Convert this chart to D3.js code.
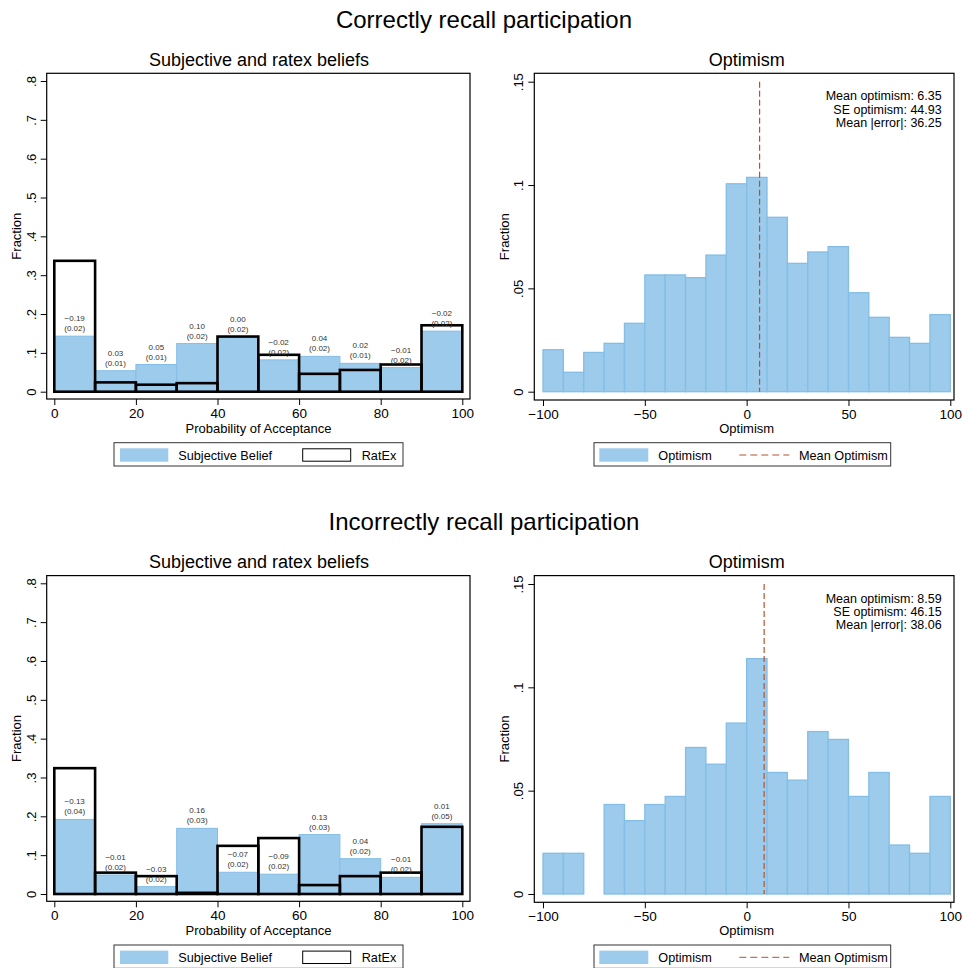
<!DOCTYPE html>
<html>
<head>
<meta charset="utf-8">
<script src="https://cdn.jsdelivr.net/npm/d3@7"></script>
<style>
  body { margin: 0; background: #fff; }
  svg { font-family: "Liberation Sans", Arial, sans-serif; }
</style>
</head>
<body>
<svg id="chart" width="964" height="968"></svg>
<script>
// bins for the probability histograms (start of each 10-point bin)
const probBins = [0, 10, 20, 30, 40, 50, 60, 70, 80, 90];
// bins for the optimism histograms
const optBins = [-100, -90, -80, -70, -60, -50, -40, -30, -20, -10, 0, 10, 20, 30, 40, 50, 60, 70, 80, 90];

// correctly recall participation
const topSubjective = [0.143, 0.054, 0.070, 0.124, 0.140, 0.082, 0.091, 0.073, 0.062, 0.156];
const topRatex      = [0.337, 0.024, 0.018, 0.022, 0.142, 0.095, 0.046, 0.056, 0.070, 0.171];
const topDiff = ["−0.19", "0.03", "0.05", "0.10", "0.00", "−0.02", "0.04", "0.02", "−0.01", "−0.02"];
const topSE   = ["(0.02)", "(0.01)", "(0.01)", "(0.02)", "(0.02)", "(0.02)", "(0.02)", "(0.01)", "(0.02)", "(0.02)"];
const topOptimism = [0.0203, 0.0094, 0.0190, 0.0234, 0.0331, 0.0565, 0.0565, 0.0552, 0.0661, 0.1006,
                     0.1037, 0.0844, 0.0621, 0.0676, 0.0702, 0.0479, 0.0360, 0.0263, 0.0234, 0.0373];
const topMean = 6.35;
const topStats = ["Mean optimism: 6.35", "SE optimism: 44.93", "Mean |error|: 36.25"];

// incorrectly recall participation
const botSubjective = [0.192, 0.049, 0.019, 0.169, 0.056, 0.051, 0.153, 0.091, 0.043, 0.181];
const botRatex      = [0.324, 0.055, 0.046, 0.003, 0.124, 0.144, 0.023, 0.046, 0.055, 0.173];
const botDiff = ["−0.13", "−0.01", "−0.03", "0.16", "−0.07", "−0.09", "0.13", "0.04", "−0.01", "0.01"];
const botSE   = ["(0.04)", "(0.02)", "(0.02)", "(0.03)", "(0.02)", "(0.02)", "(0.03)", "(0.02)", "(0.02)", "(0.05)"];
const botOptimism = [0.0197, 0.0197, 0, 0.0433, 0.0355, 0.0433, 0.0472, 0.0709, 0.0628, 0.0827,
                     0.1139, 0.0588, 0.0551, 0.0786, 0.0748, 0.0472, 0.0588, 0.0237, 0.0197, 0.0472];
const botMean = 8.59;
const botStats = ["Mean optimism: 8.59", "SE optimism: 46.15", "Mean |error|: 38.06"];

const probTicks = [0, 20, 40, 60, 80, 100];
const fracTicks = [0, .1, .2, .3, .4, .5, .6, .7, .8];
const optTicks = [-100, -50, 0, 50, 100];
const optFracTicks = [0, .05, .1, .15];

const blueFill = '#9ccbeb';
const blueEdge = '#84bee6';
const meanColor = '#b5522b';

const svg = d3.select('#chart');
const fmtFrac = d => d === 0 ? '0' : d3.format('.2~f')(d).replace(/^0/, '');

function styleYAxis(g) {
  g.select('.domain').remove();
  g.selectAll('.tick line').attr('x2', -6).attr('stroke', '#000');
  g.selectAll('.tick text')
    .attr('x', 0).attr('dy', 0).attr('y', -11)
    .attr('transform', 'rotate(-90)')
    .style('text-anchor', 'middle')
    .attr('font-size', 13).attr('fill', '#000');
}
function styleXAxis(g) {
  g.select('.domain').remove();
  g.selectAll('.tick line').attr('y2', 6).attr('stroke', '#000');
  g.selectAll('.tick text').attr('font-size', 13.5).attr('fill', '#000');
}

function frame(g, x0, x1, y0, y1) {
  g.append('rect')
    .attr('x', x0).attr('y', y0)
    .attr('width', x1 - x0).attr('height', y1 - y0)
    .attr('fill', 'none').attr('stroke', '#000').attr('stroke-width', 1.2);
}

function beliefsPanel(dy, subj, ratex, diff, se) {
  const g = svg.append('g').attr('transform', `translate(0,${dy})`);
  const box = { l: 46.7, r: 470, t: 73.3, b: 399 };
  const x = d3.scaleLinear().domain([0, 100]).range([54.3, 462.3]);
  const y = d3.scaleLinear().domain([0, 0.8]).range([391.7, 81]);

  g.append('text').attr('x', 259).attr('y', 66).attr('text-anchor', 'middle')
    .attr('font-size', 18).text('Subjective and ratex beliefs');

  g.selectAll('.subj').data(probBins).enter().append('rect')
    .attr('class', 'subj')
    .attr('x', d => x(d)).attr('width', x(10) - x(0))
    .attr('y', (d, i) => y(subj[i])).attr('height', (d, i) => y(0) - y(subj[i]))
    .attr('fill', blueFill).attr('stroke', blueEdge).attr('stroke-width', 1);

  g.selectAll('.ratex').data(probBins).enter().append('rect')
    .attr('class', 'ratex')
    .attr('x', d => x(d)).attr('width', x(10) - x(0))
    .attr('y', (d, i) => y(ratex[i])).attr('height', (d, i) => y(0) - y(ratex[i]))
    .attr('fill', 'none').attr('stroke', '#000').attr('stroke-width', 2.6);

  const lab = g.selectAll('.lab').data(probBins).enter().append('g')
    .attr('transform', (d, i) => `translate(${x(d + 5)},${y(subj[i])})`)
    .attr('font-size', 8).attr('fill', '#333').attr('text-anchor', 'middle');
  lab.append('text').attr('y', -15).text((d, i) => diff[i]);
  lab.append('text').attr('y', -5).text((d, i) => se[i]);

  frame(g, box.l, box.r, box.t, box.b);

  g.append('g').attr('transform', `translate(${box.l},0)`)
    .call(d3.axisLeft(y).tickValues(fracTicks).tickFormat(fmtFrac))
    .call(styleYAxis);
  g.append('g').attr('transform', `translate(0,${box.b})`)
    .call(d3.axisBottom(x).tickValues(probTicks).tickSize(6).tickPadding(3))
    .call(styleXAxis);

  g.append('text').attr('transform', `translate(20.5,${(box.t + box.b) / 2}) rotate(-90)`)
    .attr('text-anchor', 'middle').attr('font-size', 13).text('Fraction');
  g.append('text').attr('x', 258.5).attr('y', 432.5).attr('text-anchor', 'middle')
    .attr('font-size', 13).text('Probability of Acceptance');

  // legend
  const lg = g.append('g');
  lg.append('rect').attr('x', 114).attr('y', 442.7).attr('width', 289).attr('height', 23.3)
    .attr('fill', '#fff').attr('stroke', '#333').attr('stroke-width', 1);
  lg.append('rect').attr('x', 120).attr('y', 448.3).attr('width', 48.3).attr('height', 13.4)
    .attr('fill', blueFill);
  lg.append('text').attr('x', 178.3).attr('y', 459.5).attr('font-size', 12.7).text('Subjective Belief');
  lg.append('rect').attr('x', 302.7).attr('y', 448.8).attr('width', 48).attr('height', 12.4)
    .attr('fill', '#fff').attr('stroke', '#000').attr('stroke-width', 1);
  lg.append('text').attr('x', 361.7).attr('y', 459.5).attr('font-size', 12.7).text('RatEx');
}

function optimismPanel(dy, values, mean, stats) {
  const g = svg.append('g').attr('transform', `translate(0,${dy})`);
  const box = { l: 534.3, r: 954, t: 73.3, b: 400 };
  const x = d3.scaleLinear().domain([-100, 100]).range([543, 950.3]);
  const y = d3.scaleLinear().domain([0, 0.15]).range([391.7, 81.7]);

  g.append('text').attr('x', 746.7).attr('y', 66).attr('text-anchor', 'middle')
    .attr('font-size', 18).text('Optimism');

  g.selectAll('.bar').data(optBins).enter().append('rect')
    .attr('class', 'bar')
    .attr('x', d => x(d)).attr('width', x(-90) - x(-100))
    .attr('y', (d, i) => y(values[i])).attr('height', (d, i) => y(0) - y(values[i]))
    .attr('fill', blueFill).attr('stroke', blueEdge).attr('stroke-width', 1.3)
    .attr('display', (d, i) => values[i] > 0 ? null : 'none');

  g.append('line')
    .attr('x1', x(mean)).attr('x2', x(mean))
    .attr('y1', y(0.15)).attr('y2', y(0))
    .attr('stroke', meanColor).attr('stroke-width', 1.2)
    .attr('stroke-dasharray', '6,3');

  g.append('g').attr('font-size', 12.5).attr('text-anchor', 'end')
    .selectAll('text').data(stats).enter().append('text')
    .attr('x', 941.7).attr('y', (d, i) => 100.3 + i * 13.2)
    .text(d => d);

  frame(g, box.l, box.r, box.t, box.b);

  g.append('g').attr('transform', `translate(${box.l},0)`)
    .call(d3.axisLeft(y).tickValues(optFracTicks).tickFormat(fmtFrac))
    .call(styleYAxis);
  g.append('g').attr('transform', `translate(0,${box.b})`)
    .call(d3.axisBottom(x).tickValues(optTicks).tickSize(6).tickPadding(3))
    .call(styleXAxis);

  g.append('text').attr('transform', `translate(508.5,${(box.t + box.b) / 2}) rotate(-90)`)
    .attr('text-anchor', 'middle').attr('font-size', 13).text('Fraction');
  g.append('text').attr('x', 746.7).attr('y', 432.5).attr('text-anchor', 'middle')
    .attr('font-size', 13).text('Optimism');

  // legend
  const lg = g.append('g');
  lg.append('rect').attr('x', 594).attr('y', 442.7).attr('width', 296.7).attr('height', 23.3)
    .attr('fill', '#fff').attr('stroke', '#333').attr('stroke-width', 1);
  lg.append('rect').attr('x', 599.3).attr('y', 448.3).attr('width', 49).attr('height', 13.4)
    .attr('fill', blueFill);
  lg.append('text').attr('x', 658.3).attr('y', 459.5).attr('font-size', 12.7).text('Optimism');
  lg.append('line').attr('x1', 739.3).attr('x2', 789.3).attr('y1', 455).attr('y2', 455)
    .attr('stroke', meanColor).attr('stroke-width', 1).attr('stroke-dasharray', '7,4');
  lg.append('text').attr('x', 799).attr('y', 459.5).attr('font-size', 12.7).text('Mean Optimism');
}

svg.append('text').attr('x', 484).attr('y', 28).attr('text-anchor', 'middle')
  .attr('font-size', 24).text('Correctly recall participation');
svg.append('text').attr('x', 484).attr('y', 530).attr('text-anchor', 'middle')
  .attr('font-size', 24).text('Incorrectly recall participation');

beliefsPanel(0, topSubjective, topRatex, topDiff, topSE);
optimismPanel(0, topOptimism, topMean, topStats);
beliefsPanel(502.3, botSubjective, botRatex, botDiff, botSE);
optimismPanel(502.3, botOptimism, botMean, botStats);
</script>
</body>
</html>
